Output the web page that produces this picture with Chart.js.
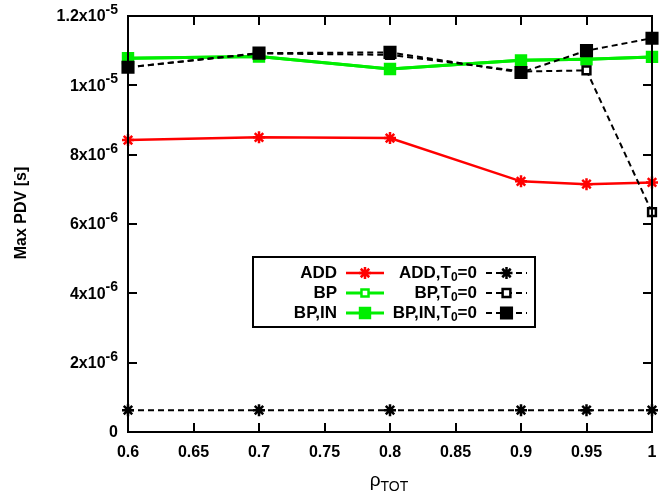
<!DOCTYPE html>
<html><head><meta charset="utf-8">
<script src="https://cdn.jsdelivr.net/npm/chart.js@4"></script>
<style>html,body{margin:0;padding:0;background:#fff}#wrap{width:670px;height:497px}</style>
</head><body><div id="wrap"><canvas id="c" width="670" height="497"></canvas></div>
<script>
const rho = [0.6, 0.7, 0.8, 0.9, 0.95, 1];
const add = [8.42e-6, 8.5e-6, 8.48e-6, 7.23e-6, 7.15e-6, 7.2e-6];
const bp = [10.78e-6, 10.83e-6, 10.47e-6, 10.72e-6, 10.75e-6, 10.82e-6];
const bpIn = [10.78e-6, 10.83e-6, 10.47e-6, 10.72e-6, 10.75e-6, 10.82e-6];
const addT0 = [6.3e-7, 6.3e-7, 6.3e-7, 6.3e-7, 6.3e-7, 6.3e-7];
const bpT0 = [10.52e-6, 10.92e-6, 10.88e-6, 10.40e-6, 10.43e-6, 6.34e-6];
const bpInT0 = [10.52e-6, 10.93e-6, 10.95e-6, 10.37e-6, 11.0e-6, 11.36e-6];
const xTicks = [0.6, 0.65, 0.7, 0.75, 0.8, 0.85, 0.9, 0.95, 1];
const yTicks = [0, 2e-6, 4e-6, 6e-6, 8e-6, 1e-5, 1.2e-5];
const seriesNames = ['ADD', 'BP', 'BP,IN', 'ADD,T0=0', 'BP,T0=0', 'BP,IN,T0=0'];

const pts = arr => rho.map((x, i) => ({x: x, y: arr[i]}));
const RED = '#ff0000', GREEN = '#00ee00', BLACK = '#000000';
const styles = [
  {data: add, color: RED, bg: RED, ps: 'star', r: 6, lw: 2.5, dash: []},
  {data: bp, color: GREEN, bg: '#ffffff', ps: 'rect', r: 5, lw: 3, dash: []},
  {data: bpIn, color: GREEN, bg: GREEN, ps: 'rect', r: 7, lw: 3, dash: []},
  {data: addT0, color: BLACK, bg: BLACK, ps: 'star', r: 6, lw: 2, dash: [6, 4]},
  {data: bpT0, color: BLACK, bg: '#ffffff', ps: 'rect', r: 5.5, lw: 2, dash: [6, 4]},
  {data: bpInT0, color: BLACK, bg: BLACK, ps: 'rect', r: 7.5, lw: 2, dash: [6, 4]}
];
const order = [5, 4, 3, 2, 1, 0];
const datasets = styles.map((s, i) => ({
  label: seriesNames[i], data: pts(s.data), borderColor: s.color, backgroundColor: s.bg,
  pointStyle: s.ps, pointRadius: s.r, pointHoverRadius: s.r, pointBorderColor: s.color,
  pointBackgroundColor: s.bg, pointBorderWidth: 2.5, borderWidth: s.lw, borderDash: s.dash,
  tension: 0, clip: false, order: order[i]
}));

const FONT = '"Liberation Sans", Arial, sans-serif';
function fmtY(v) {
  if (v === 0) return ['0', ''];
  const e = Math.floor(Math.log10(v) + 1e-9);
  const m = parseFloat((v / Math.pow(10, e)).toFixed(2));
  return [m + 'x10', '-' + (-e)];
}

const deco = {
  id: 'deco',
  afterDatasetsDraw(chart) {
    const ctx = chart.ctx, xs = chart.scales.x, ys = chart.scales.y;
    const L = xs.left, R = xs.right, T = ys.top, B = ys.bottom;
    ctx.save();
    ctx.strokeStyle = '#000'; ctx.lineWidth = 2; ctx.setLineDash([]);
    ctx.strokeRect(L, T, R - L, B - T);
    ctx.beginPath();
    yTicks.forEach(v => { const y = Math.round(ys.getPixelForValue(v));
      ctx.moveTo(L, y); ctx.lineTo(L + 9, y); ctx.moveTo(R, y); ctx.lineTo(R - 9, y); });
    xTicks.forEach(v => { const x = Math.round(xs.getPixelForValue(v));
      ctx.moveTo(x, B); ctx.lineTo(x, B - 9); ctx.moveTo(x, T); ctx.lineTo(x, T + 9); });
    ctx.stroke();
    ctx.fillStyle = '#000';
    yTicks.forEach(v => {
      const y = ys.getPixelForValue(v);
      const [base, sup] = fmtY(v);
      ctx.font = 'bold 14px ' + FONT;
      const sw = sup ? ctx.measureText(sup).width : 0;
      ctx.textAlign = 'left'; ctx.textBaseline = 'middle';
      if (sup) ctx.fillText(sup, L - 10 - sw, y - 6);
      ctx.font = 'bold 16px ' + FONT; ctx.textAlign = 'right';
      ctx.fillText(base, L - 10 - sw, y + 1);
    });
    ctx.font = 'bold 16px ' + FONT; ctx.textAlign = 'center'; ctx.textBaseline = 'middle';
    xTicks.forEach(v => ctx.fillText(String(parseFloat(v.toFixed(2))), xs.getPixelForValue(v), 453));
    ctx.save(); ctx.translate(22, 213); ctx.rotate(-Math.PI / 2);
    ctx.font = 'bold 16px ' + FONT; ctx.textAlign = 'center'; ctx.fillText('Max PDV [s]', 0, 0);
    ctx.restore();
    ctx.font = '19px ' + FONT; ctx.textAlign = 'left'; ctx.textBaseline = 'alphabetic';
    const rw = ctx.measureText('ρ').width;
    ctx.font = '14px ' + FONT; const tw = ctx.measureText('TOT').width;
    const sx = 389 - (rw + tw) / 2;
    ctx.font = '19px ' + FONT; ctx.fillText('ρ', sx, 486);
    ctx.font = '14px ' + FONT; ctx.fillText('TOT', sx + rw, 491);
    ctx.fillStyle = '#fff'; ctx.fillRect(253, 257, 282, 70);
    ctx.strokeStyle = '#000'; ctx.lineWidth = 2; ctx.strokeRect(253, 257, 282, 70);
    const rows = [273, 293, 313];
    function lbl(text, xEnd, y) {
      const idx = text.indexOf('T0');
      ctx.fillStyle = '#000'; ctx.textBaseline = 'middle'; ctx.textAlign = 'left';
      if (idx < 0) { ctx.font = 'bold 17px ' + FONT; ctx.textAlign = 'right'; ctx.fillText(text, xEnd, y); return; }
      const a = text.slice(0, idx + 1), s = '0', b = text.slice(idx + 2);
      ctx.font = 'bold 17px ' + FONT; const wa = ctx.measureText(a).width, wb = ctx.measureText(b).width;
      ctx.font = 'bold 12px ' + FONT; const ws = ctx.measureText(s).width;
      let x = xEnd - wa - ws - wb;
      ctx.font = 'bold 17px ' + FONT; ctx.fillText(a, x, y); x += wa;
      ctx.font = 'bold 12px ' + FONT; ctx.fillText(s, x, y + 5); x += ws;
      ctx.font = 'bold 17px ' + FONT; ctx.fillText(b, x, y);
    }
    function sample(i, x0, x1, y) {
      const s = styles[i];
      ctx.strokeStyle = s.color; ctx.lineWidth = s.lw; ctx.setLineDash(s.dash);
      ctx.beginPath(); ctx.moveTo(x0, y); ctx.lineTo(x1, y); ctx.stroke(); ctx.setLineDash([]);
      ctx.fillStyle = s.bg; ctx.strokeStyle = s.color; ctx.lineWidth = 2.5;
      Chart.helpers.drawPoint(ctx, {pointStyle: s.ps, radius: s.r, borderWidth: 2.5}, (x0 + x1) / 2, y);
    }
    for (let r = 0; r < 3; r++) {
      lbl(seriesNames[r], 337, rows[r]);
      sample(r, 346, 384, rows[r]);
      lbl(seriesNames[r + 3], 477, rows[r]);
      sample(r + 3, 486, 527, rows[r]);
    }
    ctx.restore();
  }
};

new Chart(document.getElementById('c'), {
  type: 'line',
  data: {datasets: datasets},
  options: {
    responsive: false, animation: false, devicePixelRatio: 1,
    layout: {padding: {left: 128, right: 18, top: 16, bottom: 65}},
    plugins: {legend: {display: false}, tooltip: {enabled: false}},
    scales: {
      x: {type: 'linear', min: 0.6, max: 1, display: false},
      y: {type: 'linear', min: 0, max: 1.2e-5, display: false}
    }
  },
  plugins: [deco]
});
</script></body></html>
